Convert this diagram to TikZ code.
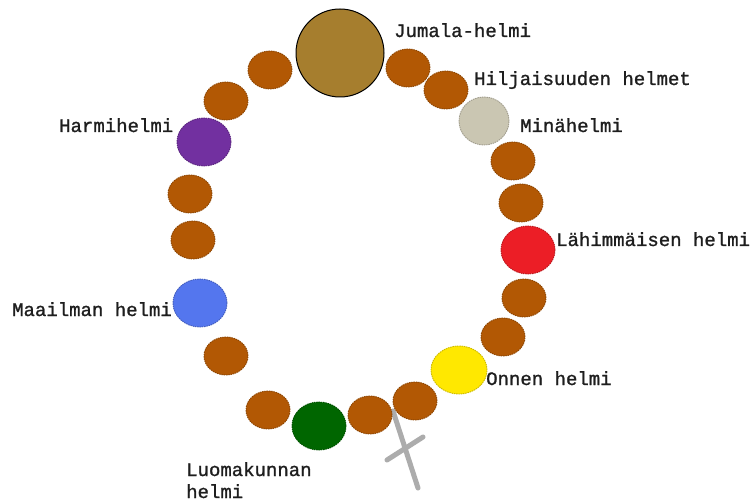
\documentclass[tikz,border=0pt]{standalone}
\usepackage{fontspec}
\setmonofont[FakeBold=1.2]{Liberation Mono}
\usetikzlibrary{shapes.geometric}
\definecolor{beadbrown}{RGB}{178,88,4}
\definecolor{godbead}{RGB}{166,126,46}
\definecolor{purplebead}{RGB}{114,48,160}
\definecolor{bluebead}{RGB}{84,118,238}
\definecolor{redbead}{RGB}{236,30,38}
\definecolor{yellowbead}{RGB}{255,232,0}
\definecolor{greenbead}{RGB}{0,102,0}
\definecolor{beigebead}{RGB}{202,198,178}
\definecolor{crossgray}{RGB}{172,172,172}
\definecolor{labeltext}{RGB}{30,30,30}
\tikzset{
  beadbase/.style={ellipse, inner sep=0pt, draw=#1!80!black, line width=0.9pt, dash pattern=on 1.5pt off 0.8pt, fill=#1},
  smallbead/.style={beadbase=beadbrown, minimum width=44pt, minimum height=38pt},
  bigbead/.style={beadbase=#1, minimum width=54pt, minimum height=48pt},
  lbl/.style={anchor=base west, inner sep=0pt, text=labeltext, font=\ttfamily\fontsize{19}{21}\selectfont},
  crossline/.style={draw=crossgray, line width=5pt, line cap=round}
}
\begin{document}
\begin{tikzpicture}[x=1pt,y=-1pt]
\useasboundingbox[fill=white] (0,0) rectangle (751,502);
% cross
\coordinate (ct) at (393,411);
\coordinate (cb) at (418,488);
\coordinate (cl) at (387,460);
\coordinate (cr) at (423,437);
\draw[crossline] (ct) -- (cb);
\draw[crossline] (cl) -- (cr);
% beads
\node[ellipse, inner sep=0pt, minimum size=88pt, draw=black, line width=1pt, fill=godbead] (god) at (340,53) {};
\node[smallbead] (s1) at (270,70) {};
\node[smallbead] (s2) at (226,101) {};
\node[bigbead=purplebead] (harmi) at (204,142) {};
\node[smallbead] (s3) at (190,194) {};
\node[smallbead] (s4) at (193,240) {};
\node[bigbead=bluebead] (maailma) at (200,303) {};
\node[smallbead] (s5) at (226,356) {};
\node[smallbead] (s6) at (268,410) {};
\node[bigbead=greenbead] (luomakunta) at (319,426) {};
\node[smallbead] (s7) at (370,415) {};
\node[smallbead] (s8) at (415,401) {};
\node[bigbead=yellowbead, minimum width=56pt] (onni) at (459,370) {};
\node[smallbead] (s9) at (503,337) {};
\node[smallbead] (s10) at (524,298) {};
\node[bigbead=redbead] (lahimmainen) at (528,250) {};
\node[smallbead] (s11) at (521,203) {};
\node[smallbead] (s12) at (513,161) {};
\node[bigbead=beigebead, minimum width=50pt] (mina) at (484,121) {};
\node[smallbead] (s13) at (446,90) {};
\node[smallbead] (s14) at (408,68) {};
% labels
\node[lbl] (tgod) at (394,37) {Jumala-helmi};
\node[lbl] (thilj) at (474,85) {Hiljaisuuden helmet};
\node[lbl] (tmina) at (520,132) {Minähelmi};
\node[lbl] (tlah) at (556,246) {Lähimmäisen helmi};
\node[lbl] (tonni) at (486,385) {Onnen helmi};
\node[lbl] (tluo1) at (186,476) {Luomakunnan};
\node[lbl] (tluo2) at (186,498) {helmi};
\node[lbl] (tmaa) at (12,316) {Maailman helmi};
\node[lbl] (tharmi) at (59,132) {Harmihelmi};
\end{tikzpicture}
\end{document}
